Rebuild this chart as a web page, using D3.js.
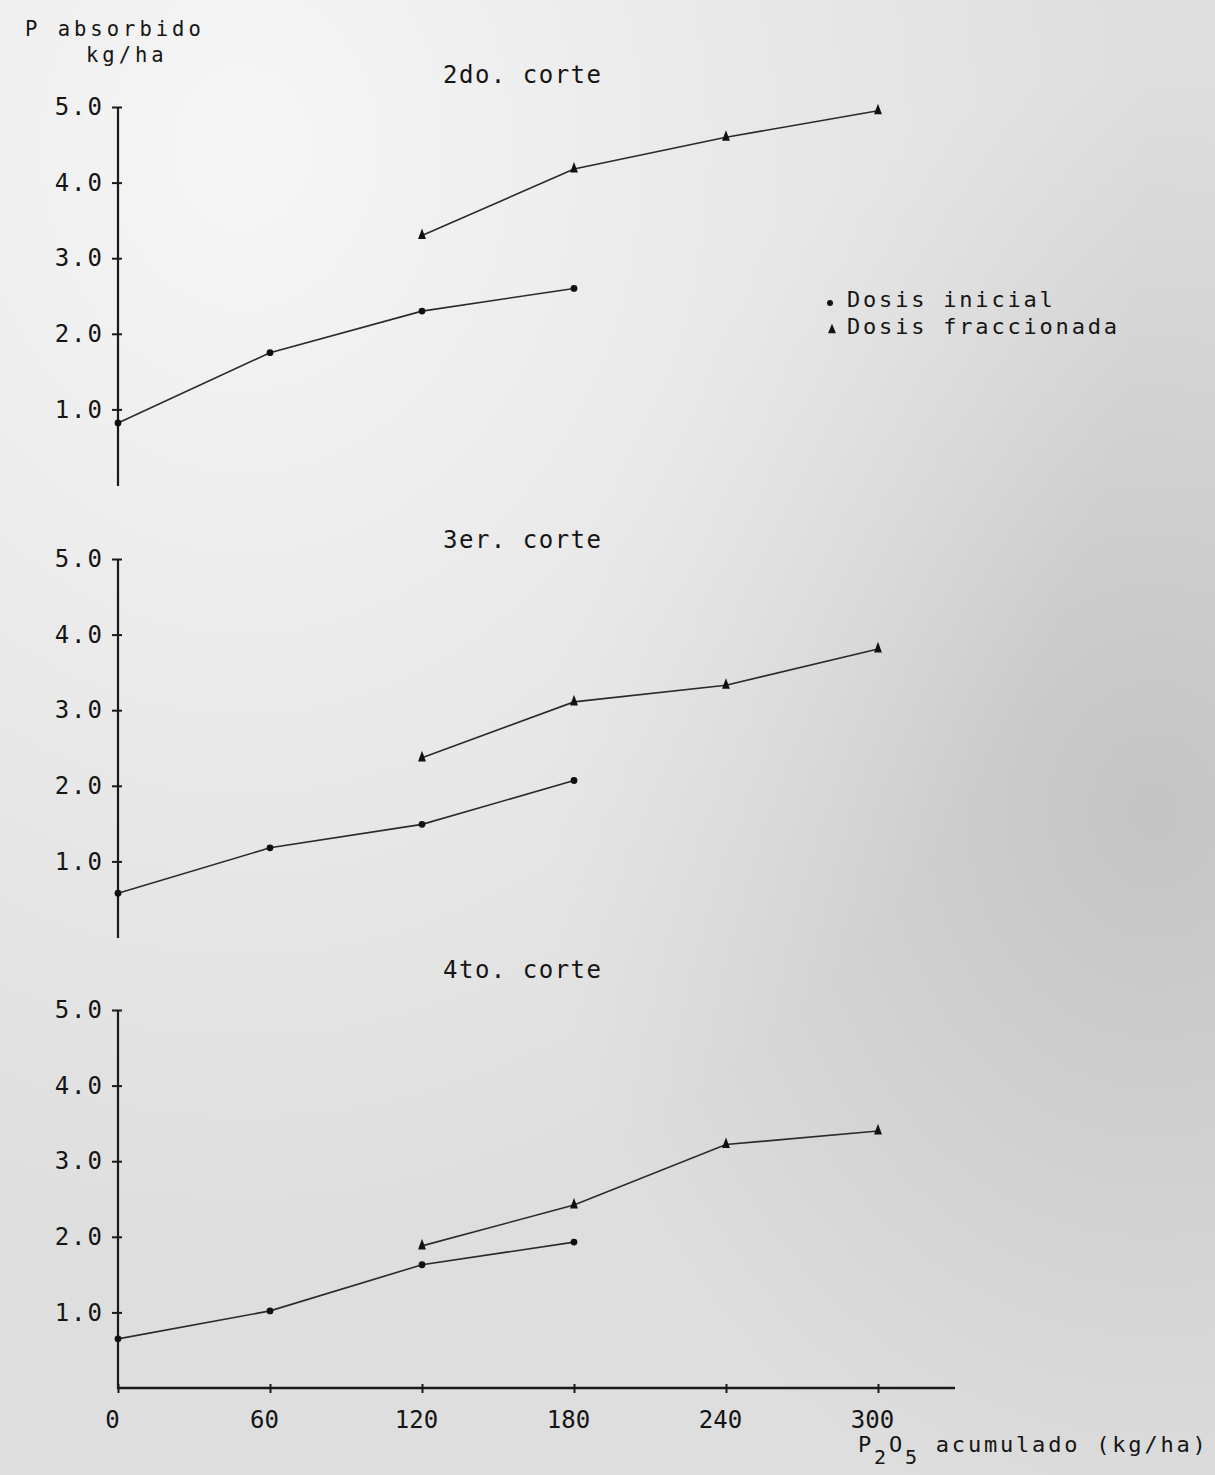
<!DOCTYPE html>
<html>
<head>
<meta charset="utf-8">
<script src="https://cdn.jsdelivr.net/npm/d3@7"></script>
<style>
  body { margin: 0; background: #e6e6e6; }
  text { font-family: "DejaVu Sans Mono", monospace; fill: #151515; }
</style>
</head>
<body>
<svg id="svg" width="1215" height="1475"></svg>
<script>
// data
var doses = [0, 60, 120, 180, 240, 300];
var yTicks = [1.0, 2.0, 3.0, 4.0, 5.0];
var cortes = ["2do. corte", "3er. corte", "4to. corte"];
var inicialX = [0, 60, 120, 180];
var fraccX = [120, 180, 240, 300];
var inicial2 = [0.82, 1.75, 2.30, 2.60];
var fracc2 = [3.30, 4.18, 4.60, 4.95];
var inicial3 = [0.58, 1.18, 1.49, 2.07];
var fracc3 = [2.37, 3.11, 3.33, 3.81];
var inicial4 = [0.65, 1.02, 1.63, 1.93];
var fracc4 = [1.88, 2.42, 3.22, 3.40];
var legendLabels = ["Dosis inicial", "Dosis fraccionada"];

window.onload = function () {
    var svg = d3.select("svg");
    var W = 1215, H = 1475;

    // scanned page background
    var defs = svg.append("defs");
    var g1 = defs.append("radialGradient").attr("id", "light")
        .attr("cx", 0.2).attr("cy", 0.1).attr("r", 0.75);
    g1.append("stop").attr("offset", "0%").attr("stop-color", "#f6f6f6");
    g1.append("stop").attr("offset", "100%").attr("stop-color", "#f6f6f6").attr("stop-opacity", 0);
    var g2 = defs.append("radialGradient").attr("id", "dark")
        .attr("cx", 0.95).attr("cy", 0.55).attr("r", 0.5);
    g2.append("stop").attr("offset", "0%").attr("stop-color", "#c4c4c4");
    g2.append("stop").attr("offset", "100%").attr("stop-color", "#c4c4c4").attr("stop-opacity", 0);
    svg.append("rect").attr("width", W).attr("height", H).attr("fill", "#dedede");
    svg.append("rect").attr("width", W).attr("height", H).attr("fill", "url(#dark)");
    svg.append("rect").attr("width", W).attr("height", H).attr("fill", "url(#light)");

    var x = d3.scaleLinear().domain([0, 300]).range([118, 878]);
    var unit = 75.6;
    var zeros = [485, 937, 1388];
    var panels = [
        { title: cortes[0], ini: inicial2, fra: fracc2 },
        { title: cortes[1], ini: inicial3, fra: fracc3 },
        { title: cortes[2], ini: inicial4, fra: fracc4 }
    ];
    var titleY = [83, 548, 978];

    var line = d3.line()
        .x(function (d) { return x(d[0]); })
        .y(function (d) { return d[2](d[1]); });

    var tri = d3.symbol().type(d3.symbolTriangle).size(42);

    panels.forEach(function (p, i) {
        var y = d3.scaleLinear().domain([0, 5]).range([zeros[i], zeros[i] - 5 * unit]);
        var g = svg.append("g");

        var yAxis = d3.axisLeft(y)
            .tickValues(yTicks)
            .tickSize(6)
            .tickPadding(8)
            .tickFormat(d3.format(".1f"));
        var ax = g.append("g")
            .attr("transform", "translate(" + x(0) + ",0)")
            .call(yAxis);
        ax.select(".domain").remove();
        ax.selectAll(".tick line").attr("x1", 4).attr("stroke", "#1a1a1a").attr("stroke-width", 2);
        ax.selectAll(".tick text")
            .attr("font-size", 24)
            .attr("letter-spacing", 2)
            .attr("font-family", "DejaVu Sans Mono")
            .attr("fill", "#151515");
        g.append("line")
            .attr("x1", x(0)).attr("x2", x(0))
            .attr("y1", y(5)).attr("y2", y(0) + 1)
            .attr("stroke", "#1a1a1a").attr("stroke-width", 2.2);

        g.append("text")
            .attr("x", 443).attr("y", titleY[i])
            .attr("font-size", 24).attr("letter-spacing", 1.5)
            .text(p.title);

        var ini = inicialX.map(function (d, k) { return [d, p.ini[k], y]; });
        var fra = fraccX.map(function (d, k) { return [d, p.fra[k], y]; });

        g.append("path").attr("d", line(ini))
            .attr("fill", "none").attr("stroke", "#2a2a2a").attr("stroke-width", 1.6);
        g.append("path").attr("d", line(fra))
            .attr("fill", "none").attr("stroke", "#2a2a2a").attr("stroke-width", 1.6);

        g.selectAll(".ini").data(ini).enter().append("circle")
            .attr("cx", function (d) { return x(d[0]); })
            .attr("cy", function (d) { return y(d[1]); })
            .attr("r", 3.4).attr("fill", "#111");
        g.selectAll(".fra").data(fra).enter().append("path")
            .attr("d", tri)
            .attr("transform", function (d) {
                return "translate(" + x(d[0]) + "," + y(d[1]) + ") scale(0.8,1.25)";
            })
            .attr("fill", "#111");
    });

    // bottom x axis
    var xAxis = d3.axisBottom(x)
        .tickValues(doses)
        .tickSize(5)
        .tickPadding(18)
        .tickFormat(d3.format("d"));
    var xa = svg.append("g")
        .attr("transform", "translate(0," + zeros[2] + ")")
        .call(xAxis);
    xa.select(".domain").remove();
    xa.selectAll(".tick line").attr("y1", -4).attr("stroke", "#1a1a1a").attr("stroke-width", 2);
    xa.selectAll(".tick text")
        .attr("font-size", 24)
        .attr("dx", -6)
        .attr("font-family", "DejaVu Sans Mono")
        .attr("fill", "#151515");
    svg.append("line")
        .attr("x1", x(0) - 1).attr("x2", 955)
        .attr("y1", zeros[2]).attr("y2", zeros[2])
        .attr("stroke", "#1a1a1a").attr("stroke-width", 2.6);

    var xl = svg.append("text")
        .attr("x", 858).attr("y", 1452)
        .attr("font-size", 22).attr("letter-spacing", 2.8);
    xl.append("tspan").text("P");
    xl.append("tspan").attr("dy", 12).attr("font-size", 20).text("2");
    xl.append("tspan").attr("dy", -12).text("O");
    xl.append("tspan").attr("dy", 12).attr("font-size", 20).text("5");
    xl.append("tspan").attr("dy", -12).text(" acumulado (kg/ha)");

    // y title
    svg.append("text").attr("x", 25).attr("y", 36)
        .attr("font-size", 20.5).attr("letter-spacing", 4).text("P absorbido");
    svg.append("text").attr("x", 86).attr("y", 62)
        .attr("font-size", 20.5).attr("letter-spacing", 4).text("kg/ha");

    // legend
    var leg = svg.append("g");
    leg.append("circle").attr("cx", 830).attr("cy", 303).attr("r", 3).attr("fill", "#111");
    leg.append("path").attr("d", tri)
        .attr("transform", "translate(832,330) scale(0.8,1.1)").attr("fill", "#111");
    leg.selectAll(".lt").data(legendLabels).enter().append("text")
        .attr("x", 847)
        .attr("y", function (d, i) { return 307 + i * 27; })
        .attr("font-size", 22).attr("letter-spacing", 2.8)
        .text(function (d) { return d; });
};
</script>
</body>
</html>
